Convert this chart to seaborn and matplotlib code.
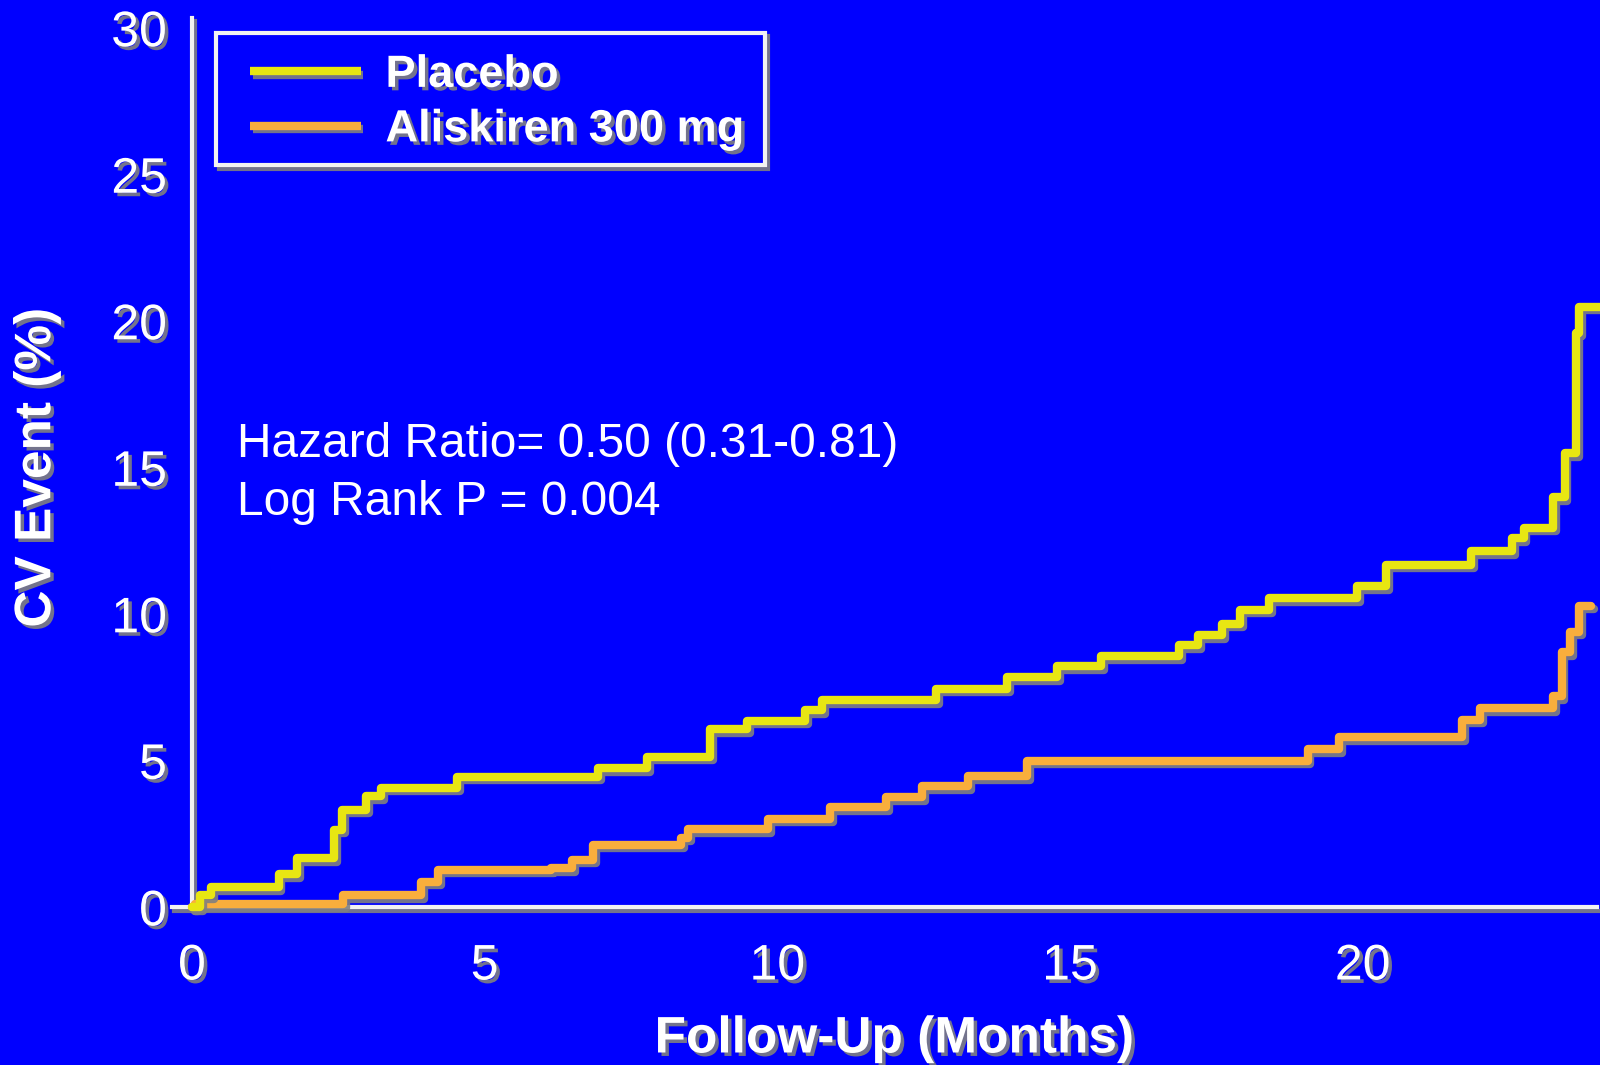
import matplotlib
matplotlib.use("Agg")
import matplotlib.pyplot as plt
import matplotlib.patheffects as pe
from matplotlib.lines import Line2D
from matplotlib.patches import Rectangle
import numpy as np
import pandas as pd
import seaborn as sns

# data (months, cumulative CV event %)
placebo_months = [0, 0.14, 0.32, 1.48, 1.79, 2.43, 2.56, 2.98, 3.23, 4.53, 6.94, 7.78,
                  8.85, 9.49, 10.47, 10.76, 12.71, 13.93, 14.78, 15.53, 16.87, 17.19,
                  17.6, 17.9, 18.4, 19.9, 20.4, 21.85, 22.55, 22.75, 23.25, 23.45,
                  23.65, 23.7, 24.05]
placebo_pct = [0, 0.42, 0.68, 1.13, 1.67, 2.64, 3.33, 3.79, 4.08, 4.45, 4.74, 5.14,
               6.07, 6.37, 6.72, 7.07, 7.46, 7.85, 8.22, 8.57, 8.95, 9.28,
               9.68, 10.15, 10.55, 10.95, 11.7, 12.15, 12.6, 12.95, 14.0, 15.5,
               19.6, 20.5, 20.5]

aliskiren_months = [0, 0.05, 2.58, 3.91, 4.2, 6.14, 6.49, 6.85, 8.36, 8.48, 9.84, 10.9,
                    11.86, 12.48, 13.26, 14.27, 19.06, 19.6, 21.7, 22.0, 23.25, 23.4,
                    23.55, 23.7, 23.9]
aliskiren_pct = [0, 0.1, 0.42, 0.88, 1.28, 1.34, 1.62, 2.13, 2.37, 2.67, 3.02, 3.42,
                 3.76, 4.13, 4.47, 5.0, 5.4, 5.8, 6.4, 6.8, 7.2, 8.7,
                 9.4, 10.3, 10.3]

groups = ["Placebo", "Aliskiren 300 mg"]
x_ticks = [0, 5, 10, 15, 20]
y_ticks = [0, 5, 10, 15, 20, 25, 30]

BG = "#0000FF"
FG = "#F2F2F2"
colors = {"Placebo": "#E8E612", "Aliskiren 300 mg": "#F9AE3C"}

df = pd.concat([
    pd.DataFrame({"month": placebo_months, "pct": placebo_pct, "group": groups[0]}),
    pd.DataFrame({"month": aliskiren_months, "pct": aliskiren_pct, "group": groups[1]}),
])

sns.set_style("white")
plt.rcParams['font.family'] = ['Liberation Sans', 'DejaVu Sans']

fig = plt.figure(figsize=(16, 10.65), dpi=100, facecolor=BG)
ax = fig.add_axes([0.12, 0.148, 0.878, 0.8255])
ax.set_facecolor(BG)

line_fx = [pe.SimpleLineShadow(offset=(2, -2.5), shadow_color="#808080", alpha=0.9), pe.Normal()]
text_fx = [pe.withSimplePatchShadow(offset=(2.5, -2.5), shadow_rgbFace="#808080", alpha=0.9)]

# draw the two step curves
for g in groups:
    sub = df[df["group"] == g]
    sns.lineplot(data=sub, x="month", y="pct", ax=ax, color=colors[g], linewidth=6,
                 drawstyle="steps-post", estimator=None, sort=False, legend=False,
                 clip_on=False, path_effects=line_fx, zorder=3 if g == groups[1] else 4)

ax.set_xlim(0, 24)
ax.set_ylim(0, 30)
ax.set_xticks(x_ticks)
ax.set_yticks(y_ticks)

for s in ["top", "right"]:
    ax.spines[s].set_visible(False)
for s in ["left", "bottom"]:
    ax.spines[s].set_color(FG)
    ax.spines[s].set_linewidth(3)
    ax.spines[s].set_path_effects(line_fx)
    ax.spines[s].set_zorder(2)
ax.spines["bottom"].set_bounds(-0.35, 24)
ax.spines["left"].set_bounds(0, 30.35)

ax.tick_params(axis="both", colors=FG, width=3, direction="out")
ax.tick_params(axis="y", length=16, pad=2, labelsize=36)
ax.tick_params(axis="x", length=16, pad=10, labelsize=36)
for lbl in ax.get_xticklabels() + ax.get_yticklabels():
    lbl.set_color("white")
    lbl.set_path_effects(text_fx)

ax.set_xlabel("Follow-Up (Months)", fontsize=37, fontweight="bold", color="white",
              labelpad=18, path_effects=text_fx)
ax.set_ylabel("CV Event (%)", fontsize=37, fontweight="bold", color="white",
              labelpad=36, path_effects=text_fx)

# hazard ratio annotation
ax.text(0.77, 15.78, "Hazard Ratio= 0.50 (0.31-0.81)", fontsize=34.5, color="white",
        va="center", ha="left")
ax.text(0.77, 13.8, "Log Rank P = 0.004", fontsize=34.5, color="white",
        va="center", ha="left")

# legend: frame drawn separately so the padding matches
box = Rectangle((0.1352, 0.8448), 0.3431, 0.1245, transform=fig.transFigure,
                facecolor=BG, edgecolor=FG, linewidth=3, path_effects=line_fx, zorder=5)
fig.add_artist(box)
handles = [Line2D([0], [0], color=colors[g], linewidth=6, solid_capstyle="butt",
                  path_effects=line_fx) for g in groups]
leg = fig.legend(handles, groups, loc="upper left", bbox_to_anchor=(0.1563, 0.9485),
                 frameon=False, handlelength=2.45, handletextpad=0.55, borderpad=0,
                 borderaxespad=0, labelspacing=0.3, prop={"size": 32.5, "weight": "bold"})
leg.set_zorder(6)
for t in leg.get_texts():
    t.set_color("white")
    t.set_path_effects(text_fx)

plt.savefig("out.png", dpi=100, facecolor=BG)
